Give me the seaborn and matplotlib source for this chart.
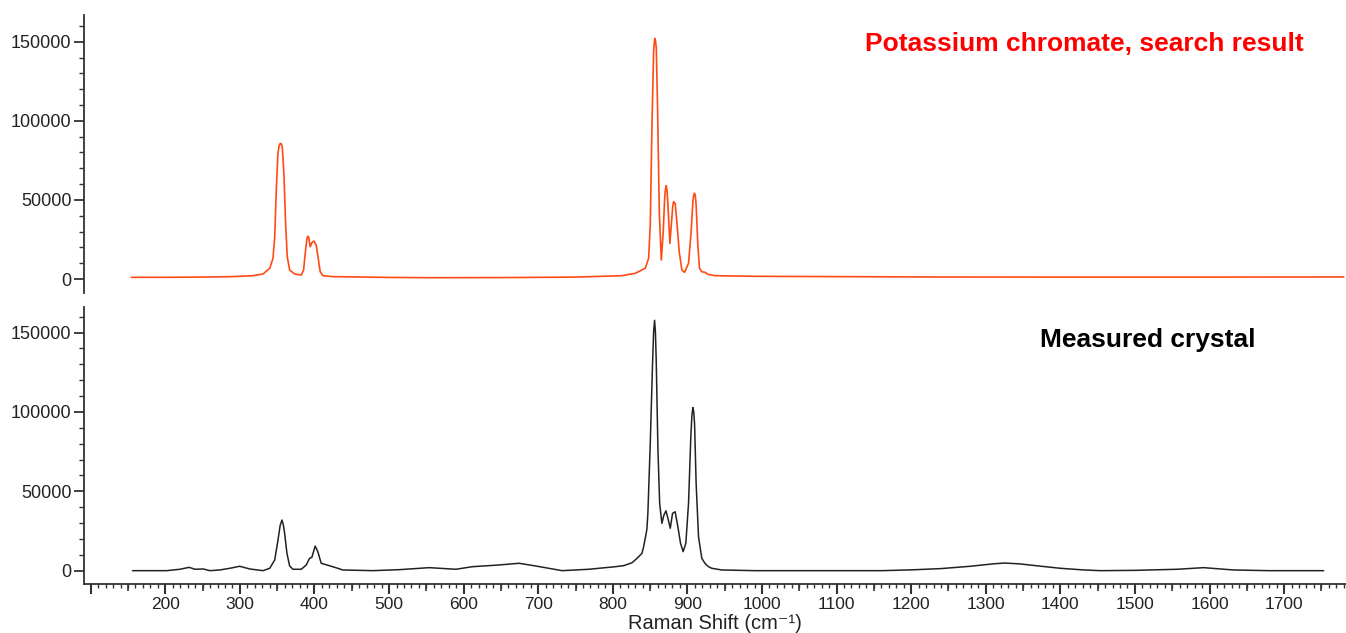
import numpy as np
import pandas as pd
import matplotlib
matplotlib.use("Agg")
import matplotlib.pyplot as plt
from matplotlib.ticker import MultipleLocator, FixedLocator, FuncFormatter
import seaborn as sns

# ---- data (Raman shift in cm^-1, intensity in counts) ----
ref_shift = [154.5, 200, 250, 290, 317.6, 331, 340, 344.4, 346.7, 348.8, 351, 352.6, 354.2,
             355.5, 356.8, 359, 361.3, 363.5, 366.7, 373.4, 382.3, 385.4, 387.6, 389.9, 391,
             392.1, 394.3, 396.5, 399.2, 402.3, 405, 407.7, 411.2, 424.6, 500, 558, 650, 750,
             812.3, 830, 843.5, 848, 850.2, 852.5, 854.7, 855.6, 856.5, 857.4, 858.3, 860,
             862.3, 865, 867.6, 869.5, 870.5, 871.6, 872.7, 873.9, 876.5, 878.8, 880.2, 881.5,
             883.6, 885.9, 889, 892.6, 896.1, 901.5, 905, 907.3, 908.5, 909.6, 910.7, 911.7,
             914, 916.2, 919.3, 923.7, 927.3, 937, 990.6, 1240, 1400, 1600, 1780]
ref_intensity = [1070, 1070, 1200, 1500, 2100, 3160, 6760, 13080, 26740, 56250, 79400, 84300, 85800,
                 85400, 83600, 66800, 35200, 14100, 5700, 3160, 2530, 5700, 16200, 25700, 27000,
                 26700, 20400, 22900, 24000, 21500, 13100, 4600, 2100, 1500, 1000, 820, 900, 1200,
                 2100, 3600, 6760, 13100, 34100, 97300, 143700, 149500, 152100, 150000, 145800, 107900,
                 42500, 12000, 29900, 51000, 56500, 59000, 56000, 46800, 22500, 36200, 45500, 48900,
                 47800, 36200, 17300, 5700, 4200, 9900, 29900, 48900, 53000, 54200, 52300, 46800,
                 21500, 6760, 4600, 4200, 3000, 2100, 1700, 1260, 1200, 1200, 1300]

meas_shift = [156, 201.8, 219.6, 232, 239.7, 250.8, 259.8, 273, 286.5, 299.8, 313.2, 331,
              340, 346.7, 351.1, 354, 356.4, 358.2, 360, 363.1, 366.7, 371.1, 382.3, 389, 393.4,
              396.5, 401, 404.5, 409, 418, 426.9, 438, 478, 513.8, 553.9, 589.5, 611.8, 647.5,
              674.2, 696.5, 732, 767.8, 803.4, 815, 825.7, 833, 839, 841.3, 845.6, 847,
              850.2, 853.4, 854.7, 856, 857.1, 858.2, 860.5, 862.8, 865.8, 868.5, 871.2, 873.9,
              877, 880.1, 883.6, 887.2, 890.8, 894.3, 897.9, 901.5, 904.6, 906, 907.3, 908.5,
              909.6, 911.7, 914.9, 919.3, 923.7, 928.3, 932.7, 946, 990.6, 1160, 1200, 1240,
              1280, 1310, 1325, 1345, 1370, 1400, 1430, 1454, 1500, 1556.7, 1592, 1632, 1680, 1753]
meas_intensity = [0, 0, 880, 2100, 880, 1070, 0, 440, 1500, 2770, 1070, 0,
                  1500, 6730, 19300, 28500, 31900, 29000, 23500, 10900, 2960, 880, 880, 3590, 7800,
                  8400, 15500, 12000, 4650, 3400, 2140, 440, 0, 630, 1900, 880, 2500, 3590,
                  4650, 2960, 0, 880, 2500, 3200, 5000, 8000, 10900, 15000, 25800, 36000,
                  80100, 132500, 150500, 157700, 150500, 132500, 75900, 42400, 29800, 35000, 37700, 33000,
                  26700, 36100, 37100, 27700, 17200, 12000, 17200, 42400, 84300, 97500, 102800, 100000,
                  92700, 55000, 21400, 7800, 4500, 2500, 1500, 440, 0, 0, 500, 1300,
                  2800, 4300, 4800, 4300, 3000, 1500, 500, 0, 200, 880, 1900, 440, 0, 0]

x_tick_values = [100, 200, 300, 400, 500, 600, 700, 800, 900, 1000, 1100, 1200,
                 1300, 1400, 1500, 1600, 1700]
x_tick_labels = ["", "200", "300", "400", "500", "600", "700", "800", "900", "1000",
                 "1100", "1200", "1300", "1400", "1500", "1600", "1700"]
y_tick_values = [0, 50000, 100000, 150000]

ref_title = "Potassium chromate, search result"
meas_title = "Measured crystal"
x_label = "Raman Shift (cm\u207b\u00b9)"

ref_df = pd.DataFrame({"shift": ref_shift, "intensity": ref_intensity})
meas_df = pd.DataFrame({"shift": meas_shift, "intensity": meas_intensity})

# ---- style ----
sns.set_style("ticks")
plt.rcParams["font.family"] = ["Liberation Sans", "DejaVu Sans"]

W, H = 1346, 633
fig = plt.figure(figsize=(W / 100, H / 100), dpi=100)

def frac(l, t, r, b):
    return [l / W, 1 - b / H, (r - l) / W, (b - t) / H]

ax_top = fig.add_axes(frac(84, 15, 1346, 293))
ax_bot = fig.add_axes(frac(84, 307, 1346, 584))

sns.lineplot(data=ref_df, x="shift", y="intensity", ax=ax_top, color="#ff4a14",
             linewidth=1.2, estimator=None, sort=False)
sns.lineplot(data=meas_df, x="shift", y="intensity", ax=ax_bot, color="#222222",
             linewidth=1.1, estimator=None, sort=False)

xlim = (91, 1783)
for ax, ylim in ((ax_top, (-8850, 166900)), (ax_bot, (-8400, 166100))):
    ax.set_xlim(*xlim)
    ax.set_ylim(*ylim)
    ax.set_ylabel("")
    ax.set_xlabel("")
    sns.despine(ax=ax, top=True, right=True)
    ax.spines["left"].set_linewidth(1.3)
    ax.spines["left"].set_color("#333333")
    ax.yaxis.set_major_locator(FixedLocator(y_tick_values))
    ax.yaxis.set_minor_locator(MultipleLocator(10000))
    ax.yaxis.set_major_formatter(FuncFormatter(lambda v, p: f"{int(round(v))}"))
    ax.tick_params(axis="y", which="major", length=7, width=1.3, labelsize=13,
                   color="#333333", labelcolor="#222222", pad=2)
    ax.tick_params(axis="y", which="minor", length=3.5, width=1.0, color="#333333")
    ax.patch.set_alpha(0)

# top panel: no x axis
ax_top.spines["bottom"].set_visible(False)
ax_top.tick_params(axis="x", which="both", bottom=False, labelbottom=False)

# bottom panel x axis
ax_bot.spines["bottom"].set_linewidth(1.3)
ax_bot.spines["bottom"].set_color("#333333")
ax_bot.xaxis.set_major_locator(FixedLocator(x_tick_values))
ax_bot.set_xticklabels(x_tick_labels)
ax_bot.xaxis.set_minor_locator(MultipleLocator(10))
ax_bot.tick_params(axis="x", which="major", length=7.5, width=1.5, labelsize=12.5,
                   color="#333333", labelcolor="#222222", pad=2)
ax_bot.tick_params(axis="x", which="minor", length=3, width=1.0, color="#333333")
sec = ax_bot.secondary_xaxis("bottom")
sec.xaxis.set_major_locator(FixedLocator(list(range(150, 1800, 100))))
sec.tick_params(axis="x", length=5, width=1.2, color="#333333", labelbottom=False)
sec.spines["bottom"].set_visible(False)
ax_bot.set_xlabel(x_label, fontsize=14.5, color="#222222", labelpad=1)

ax_top.text(0.9667, 0.896, ref_title, transform=ax_top.transAxes, ha="right",
            va="center", color="#ff0000", fontsize=19, fontweight="bold")
ax_bot.text(0.928, 0.881, meas_title, transform=ax_bot.transAxes, ha="right",
            va="center", color="black", fontsize=19, fontweight="bold")

fig.savefig("out.png", dpi=100, facecolor="white")
